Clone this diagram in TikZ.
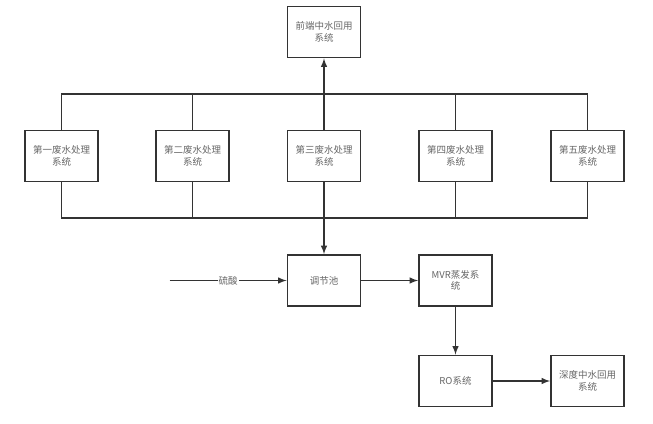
\documentclass[tikz,border=0pt]{standalone}
\usepackage{fontspec}
\newfontfamily\cjk{Noto Sans CJK SC}
\usepackage{tikz}
\usetikzlibrary{positioning}
\usetikzlibrary{calc}
\tikzset{every picture/.style={line width=1.9pt,draw=black!80},
  sysbox/.style={draw=black!80,minimum width=73pt,minimum height=51pt,inner sep=1pt,align=center,text width=66pt,
    font=\cjk\fontsize{9.5}{11.5}\selectfont,text=black!60}}

\begin{document}
\begin{tikzpicture}[x=1pt,y=-1pt]
\useasboundingbox[fill=white] (0,0) rectangle (653,423);
\node (front) at (324,32) [sysbox] {前端中水回用\\系统};
\foreach \x/\n/\name in {1/61.5/一, 2/192.5/二, 3/324/三, 4/455.5/四, 5/587.5/五} {
\node (w\x) at (\n,156) [sysbox] {第\name 废水处理\\系统};
}
\coordinate (bustop) at (324,94.3);
\coordinate (busbot) at (324,218.3);
\draw (w1.north) |- (bustop) -| (w5.north);
\draw (w2.north) |- (bustop);
\draw (w4.north) |- (bustop);
\draw[-latex] (w3.north) -- (front.south);
\draw (w1.south) |- (busbot) -| (w5.south);
\draw (w2.south) |- (busbot);
\draw (w4.south) |- (busbot);
\node (pool) at (324,280.5) [sysbox] {调节池};
\draw[-latex] (w3.south) -- (pool.north);
\coordinate (acid) at (169.5,280.5);
\draw[-latex] (acid) -- node[fill=white,inner sep=1pt,font=\cjk\fontsize{9.5}{11.5}\selectfont,text=black!60] {硫酸} (pool.west);
\node (mvr) at (455.5,280.5) [sysbox] {MVR蒸发系\\统};
\node (ro) at (455.5,381) [sysbox] {RO系统};
\node (deep) at (587.5,381) [sysbox] {深度中水回用\\系统};
\draw[-latex] (pool) -- (mvr);
\draw[-latex] (mvr) -- (ro);
\draw[-latex] (ro) -- (deep);
\end{tikzpicture}
\end{document}
